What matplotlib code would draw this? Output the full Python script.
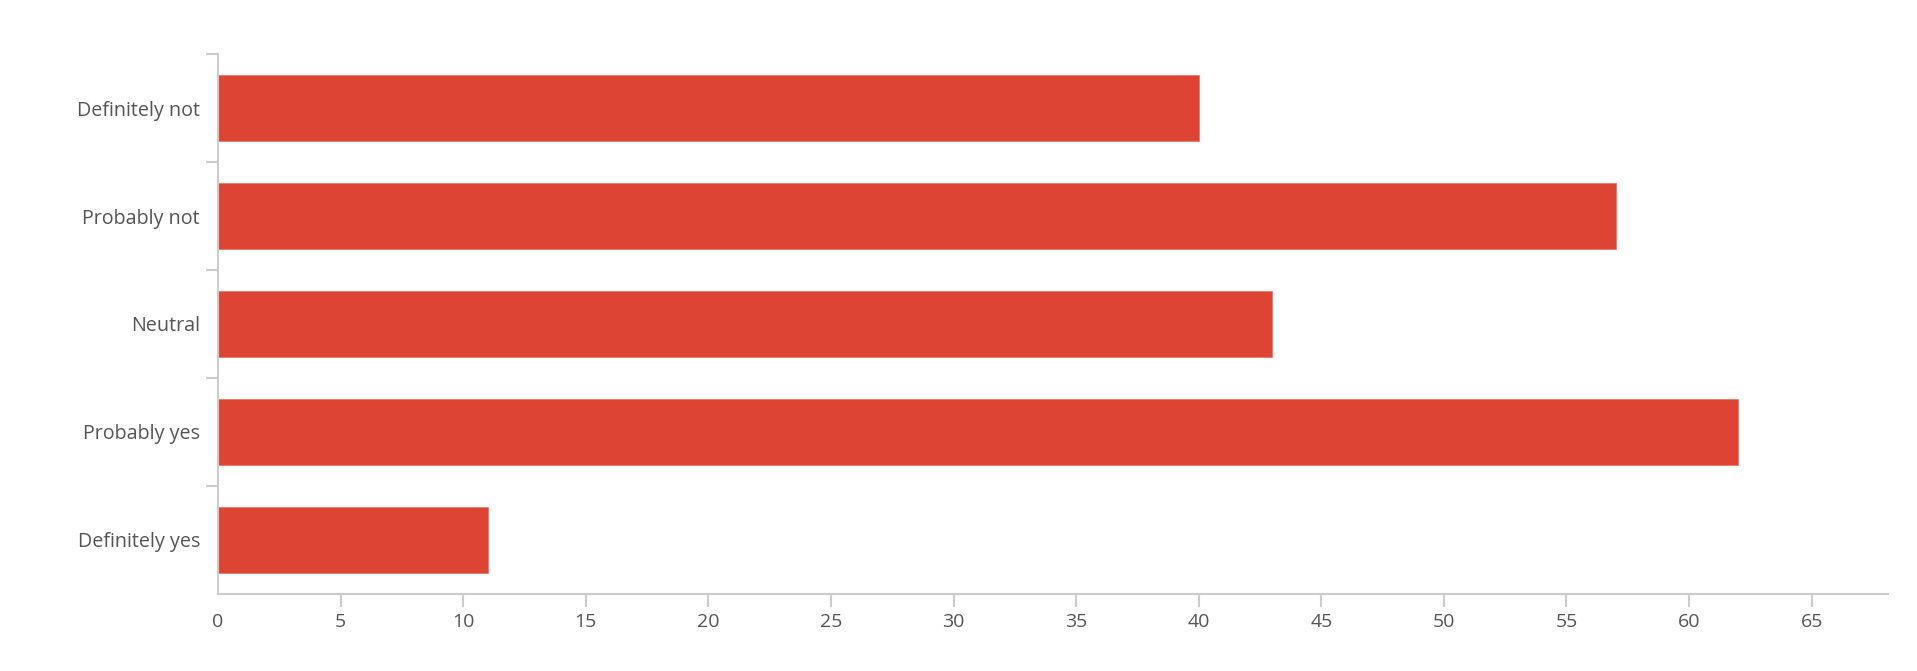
import numpy as np
import matplotlib
matplotlib.use('Agg')
import matplotlib.pyplot as plt

# -- data
categories = ['Definitely not', 'Probably not', 'Neutral', 'Probably yes', 'Definitely yes']
counts = [40, 57, 43, 62, 11]
xticks = [0, 5, 10, 15, 20, 25, 30, 35, 40, 45, 50, 55, 60, 65]

bar_col = '#dd4433'
axis_col = '#cccccc'
text_col = '#555555'

plt.rcParams['font.family'] = ['Open Sans', 'DejaVu Sans']

fig = plt.figure(figsize=(19.17, 6.71), dpi=100)
ax = fig.add_axes([0.1137, 0.1148, 0.9847 - 0.1137, 0.9195 - 0.1148])

y = np.arange(len(categories))
ax.barh(y, counts, height=0.61, color=bar_col, edgecolor='#ee7766', linewidth=0.6)

ax.set_xlim(0, 68.1)
ax.set_ylim(len(categories) - 0.5, -0.5)

# x axis
ax.set_xticks(xticks)
ax.set_xticklabels([str(t) for t in xticks], fontsize=14, color=text_col)
ax.tick_params(axis='x', length=9, width=1.5, color=axis_col, pad=5)
ax.xaxis.get_major_ticks()[0].tick1line.set_visible(False)

# y axis: ticks on band boundaries (not the bottom one), labels at centres
ax.set_yticks(np.arange(len(categories)) - 0.5)
ax.set_yticklabels([])
ax.set_yticks(y, minor=True)
ax.set_yticklabels(categories, minor=True, fontsize=14.2, color=text_col)
ax.tick_params(axis='y', which='major', length=9, width=1.5, color=axis_col)
ax.tick_params(axis='y', which='minor', length=0, pad=13)

for s in ['top', 'right']:
    ax.spines[s].set_visible(False)
for s in ['left', 'bottom']:
    ax.spines[s].set_color(axis_col)
    ax.spines[s].set_linewidth(1.5)

fig.savefig('out.png', dpi=100)
